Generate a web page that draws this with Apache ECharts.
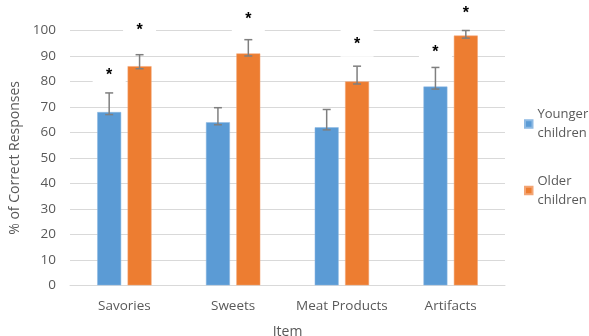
<!DOCTYPE html>
<html>
<head>
<meta charset="utf-8">
<script src="https://cdn.jsdelivr.net/npm/echarts@6/dist/echarts.min.js"></script>
<style>
  html, body { margin: 0; padding: 0; background: #fff; }
  #chart { width: 589px; height: 336px; }
</style>
</head>
<body>
<div id="chart"></div>
<script>
// Item categories and the two age groups
const categories = ['Savories', 'Sweets', 'Meat Products', 'Artifacts'];
const groupNames = ['Younger children', 'Older children'];

// Mean % of correct responses
const youngerValues = [68, 64, 62, 78];
const olderValues = [86, 91, 80, 98];

// Error bar extents above / below each mean
const youngerErrPlus = [7.5, 5.7, 7, 7.5];
const youngerErrMinus = [1, 1, 1, 1];
const olderErrPlus = [4.5, 5.4, 6, 2];
const olderErrMinus = [1, 1, 1, 1];

// Heights of the significance asterisks (null = no marker)
const youngerStars = [83.7, null, null, 93];
const olderStars = [101.4, 106, 96, 108.4];

// Y axis ticks
const yMin = 0, yMax = 100, yStep = 10;

const BAR_WIDTH_FRAC = 0.22;
const BAR_GAP_FRAC = 0.27;
const colors = ['#5B9BD5', '#ED7D31'];

function barOffset(api, groupIdx) {
  const band = api.size([1, 0])[0];
  const w = band * BAR_WIDTH_FRAC;
  const off = (w + w * BAR_GAP_FRAC) / 2;
  return groupIdx === 0 ? -off : off;
}

function errorSeries(groupIdx, values, plus, minus) {
  const data = values.map((v, i) => [i, v - minus[i], v + plus[i]]);
  return {
    type: 'custom',
    name: groupNames[groupIdx] + ' error',
    z: 5,
    silent: true,
    data: data,
    encode: { x: 0, y: [1, 2] },
    renderItem: function (params, api) {
      const dx = barOffset(api, groupIdx);
      const lo = api.coord([api.value(0), api.value(1)]);
      const hi = api.coord([api.value(0), api.value(2)]);
      const x = lo[0] + dx;
      const cap = 4;
      const style = { stroke: '#7F7F7F', lineWidth: 1.5, fill: null };
      return {
        type: 'group',
        children: [
          { type: 'line', shape: { x1: x, y1: lo[1], x2: x, y2: hi[1] }, style: style },
          { type: 'line', shape: { x1: x - cap, y1: lo[1], x2: x + cap, y2: lo[1] }, style: style },
          { type: 'line', shape: { x1: x - cap, y1: hi[1], x2: x + cap, y2: hi[1] }, style: style }
        ]
      };
    }
  };
}

function starSeries(groupIdx, stars) {
  const data = [];
  stars.forEach((s, i) => { if (s != null) data.push([i, s]); });
  return {
    type: 'custom',
    name: groupNames[groupIdx] + ' sig',
    z: 4,
    silent: true,
    clip: false,
    data: data,
    encode: { x: 0, y: 1 },
    renderItem: function (params, api) {
      const p = api.coord([api.value(0), api.value(1)]);
      const x = p[0] + barOffset(api, groupIdx);
      return {
        type: 'group',
        children: [
          { type: 'rect', shape: { x: x - 16.5, y: p[1] - 12, width: 33, height: 28 },
            style: { fill: '#ffffff' } },
          { type: 'text', x: x, y: p[1] + 4,
            style: { text: '*', fill: '#000000', font: 'bold 16px "Liberation Sans"',
                     align: 'center', verticalAlign: 'middle' } }
        ]
      };
    }
  };
}

const chart = echarts.init(document.getElementById('chart'), null, { renderer: 'canvas' });
const labelFont = '"Open Sans", sans-serif';

chart.setOption({
  animation: false,
  color: colors,
  grid: { left: 70, right: 84, top: 30.5, bottom: 50.7, containLabel: false, outerBoundsMode: 'none' },
  legend: {
    orient: 'vertical',
    left: 524,
    top: 95.5,
    padding: 0,
    icon: 'rect',
    itemWidth: 7.5,
    itemHeight: 7.5,
    itemGap: 9.5,
    data: groupNames,
    formatter: name => name.replace(' ', '\n'),
    textStyle: { color: '#595959', fontFamily: labelFont, fontSize: 13, lineHeight: 19, padding: [19, 0, 0, 0] }
  },
  xAxis: {
    type: 'category',
    data: categories,
    name: 'Item',
    nameLocation: 'middle',
    nameGap: 40,
    nameTextStyle: { color: '#595959', fontFamily: labelFont, fontSize: 14 },
    axisLine: { lineStyle: { color: '#D9D9D9', width: 1 } },
    axisTick: { show: false },
    axisLabel: { color: '#595959', fontFamily: labelFont, fontSize: 13.5, margin: 14, interval: 0 }
  },
  yAxis: {
    type: 'value',
    min: yMin,
    max: yMax,
    interval: yStep,
    name: '% of Correct Responses',
    nameLocation: 'middle',
    nameRotate: 90,
    nameGap: 42,
    nameTextStyle: { color: '#595959', fontFamily: labelFont, fontSize: 14 },
    axisLine: { show: false },
    axisTick: { show: false },
    splitLine: { lineStyle: { color: '#D9D9D9', width: 1 } },
    axisLabel: { color: '#595959', fontFamily: labelFont, fontSize: 13.5, margin: 14 }
  },
  series: [
    {
      type: 'bar', name: groupNames[0], data: youngerValues,
      barWidth: (BAR_WIDTH_FRAC * 100) + '%', barGap: (BAR_GAP_FRAC * 100) + '%',
      itemStyle: { color: colors[0], borderColor: '#8DB9E3', borderWidth: 0.5 }
    },
    {
      type: 'bar', name: groupNames[1], data: olderValues,
      barWidth: (BAR_WIDTH_FRAC * 100) + '%', barGap: (BAR_GAP_FRAC * 100) + '%',
      itemStyle: { color: colors[1], borderColor: '#F3A574', borderWidth: 0.5 }
    },
    errorSeries(0, youngerValues, youngerErrPlus, youngerErrMinus),
    errorSeries(1, olderValues, olderErrPlus, olderErrMinus),
    starSeries(0, youngerStars),
    starSeries(1, olderStars)
  ]
});
</script>
</body>
</html>
